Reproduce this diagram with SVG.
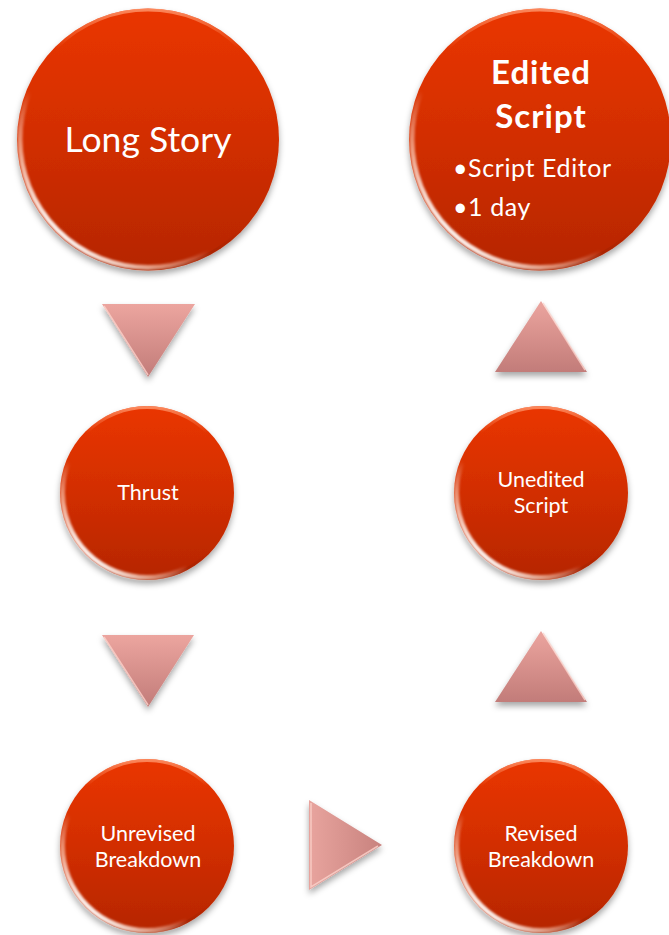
<svg xmlns="http://www.w3.org/2000/svg" width="669" height="935" viewBox="0 0 669 935">
<defs>
  <linearGradient id="ballFill" x1="0" y1="0" x2="0" y2="1">
    <stop offset="0" stop-color="#EA3600"/>
    <stop offset="0.5" stop-color="#D22E00"/>
    <stop offset="1" stop-color="#B52600"/>
  </linearGradient>
  <linearGradient id="rimLight" x1="0.1" y1="0.85" x2="0.5" y2="0.4">
    <stop offset="0" stop-color="#FFFFFF" stop-opacity="1"/>
    <stop offset="0.3" stop-color="#FFD8C4" stop-opacity="0.6"/>
    <stop offset="0.6" stop-color="#FFFFFF" stop-opacity="0"/>
  </linearGradient>
  <linearGradient id="rimTop" x1="0" y1="0" x2="0" y2="1">
    <stop offset="0" stop-color="#FF9A70" stop-opacity="0.8"/>
    <stop offset="0.15" stop-color="#FF8A5C" stop-opacity="0"/>
    <stop offset="0.85" stop-color="#8A1C00" stop-opacity="0"/>
    <stop offset="1" stop-color="#8A1C00" stop-opacity="0.5"/>
  </linearGradient>
  <linearGradient id="triFill" x1="0" y1="0" x2="0" y2="1">
    <stop offset="0" stop-color="#ECA59F"/>
    <stop offset="1" stop-color="#C27C79"/>
  </linearGradient>
  <linearGradient id="triFillH" x1="0" y1="0" x2="1" y2="0">
    <stop offset="0" stop-color="#E8A49E"/>
    <stop offset="1" stop-color="#C8827E"/>
  </linearGradient>
  <filter id="shadow" x="-20%" y="-20%" width="140%" height="145%">
    <feDropShadow dx="0" dy="4" stdDeviation="3" flood-color="#000" flood-opacity="0.35"/>
  </filter>
  <filter id="soft" x="-10%" y="-10%" width="120%" height="120%">
    <feGaussianBlur stdDeviation="0.8"/>
  </filter>
</defs>
<style>
  .ball { fill: url(#ballFill); filter: url(#shadow); }
  .rim { fill: none; stroke: url(#rimLight); stroke-width: 5; filter: url(#soft); }
  .rim2 { fill: none; stroke: url(#rimTop); stroke-width: 3; }
  .tri { fill: url(#triFill); filter: url(#shadow); }
  .triH { fill: url(#triFillH); filter: url(#shadow); }
  .edge { fill: none; stroke: #FBD3CC; stroke-width: 1.5; stroke-opacity: 0.8; }
  text { font-family: "Lato", "Open Sans", "Liberation Sans", sans-serif; fill: #FFFFFF; text-anchor: middle; }
  .big { font-size: 35.5px; }
  .small { font-size: 21.5px; }
  .bold { font-size: 33px; font-weight: bold; letter-spacing: 1px; }
  .bullet { font-size: 25px; text-anchor: start; letter-spacing: 0.6px; }
</style>
<rect width="669" height="935" fill="#FFFFFF"/>

<g id="connectors">
  <g id="arrow-down-1">
    <polygon class="tri" points="102,304 195,304 148,377"/>
    <polyline class="edge" points="104,306 148,375"/>
  </g>
  <g id="arrow-down-2">
    <polygon class="tri" points="102,635 194,635 148,707"/>
    <polyline class="edge" points="104,637 148,705"/>
  </g>
  <g id="arrow-right">
    <polygon class="triH" points="309,800 382,845 309,890"/>
    <polyline class="edge" points="311,803 311,887 378,846"/>
  </g>
  <g id="arrow-up-1">
    <polygon class="tri" points="541,301 587,372 495,372"/>
    <polyline class="edge" points="543,303 585,370"/>
  </g>
  <g id="arrow-up-2">
    <polygon class="tri" points="541,631 587,702 495,702"/>
    <polyline class="edge" points="543,633 585,700"/>
  </g>
</g>

<g id="node-long-story">
  <circle class="ball" cx="148" cy="139.5" r="131"/>
  <circle class="rim2" cx="148" cy="139.5" r="129.5"/>
  <circle class="rim" cx="148" cy="139.5" r="128"/>
  <text class="big" x="148" y="152">Long Story</text>
</g>

<g id="node-edited-script">
  <circle class="ball" cx="540" cy="139.5" r="131"/>
  <circle class="rim2" cx="540" cy="139.5" r="129.5"/>
  <circle class="rim" cx="540" cy="139.5" r="128"/>
  <text class="bold" x="541" y="84">Edited</text>
  <text class="bold" x="541" y="128">Script</text>
  <text class="bullet" x="453" y="177">•Script Editor</text>
  <text class="bullet" x="453" y="216">•1 day</text>
</g>

<g id="node-thrust">
  <circle class="ball" cx="147" cy="493" r="87"/>
  <circle class="rim2" cx="147" cy="493" r="85.5"/>
  <circle class="rim" cx="147" cy="493" r="84.5"/>
  <text class="small" x="148" y="500">Thrust</text>
</g>

<g id="node-unedited-script">
  <circle class="ball" cx="541" cy="493" r="87"/>
  <circle class="rim2" cx="541" cy="493" r="85.5"/>
  <circle class="rim" cx="541" cy="493" r="84.5"/>
  <text class="small" x="541" y="487">Unedited</text>
  <text class="small" x="541" y="513">Script</text>
</g>

<g id="node-unrevised-breakdown">
  <circle class="ball" cx="147" cy="846" r="87"/>
  <circle class="rim2" cx="147" cy="846" r="85.5"/>
  <circle class="rim" cx="147" cy="846" r="84.5"/>
  <text class="small" x="148" y="841">Unrevised</text>
  <text class="small" x="148" y="867">Breakdown</text>
</g>

<g id="node-revised-breakdown">
  <circle class="ball" cx="541" cy="846" r="87"/>
  <circle class="rim2" cx="541" cy="846" r="85.5"/>
  <circle class="rim" cx="541" cy="846" r="84.5"/>
  <text class="small" x="541" y="841">Revised</text>
  <text class="small" x="541" y="867">Breakdown</text>
</g>
</svg>
